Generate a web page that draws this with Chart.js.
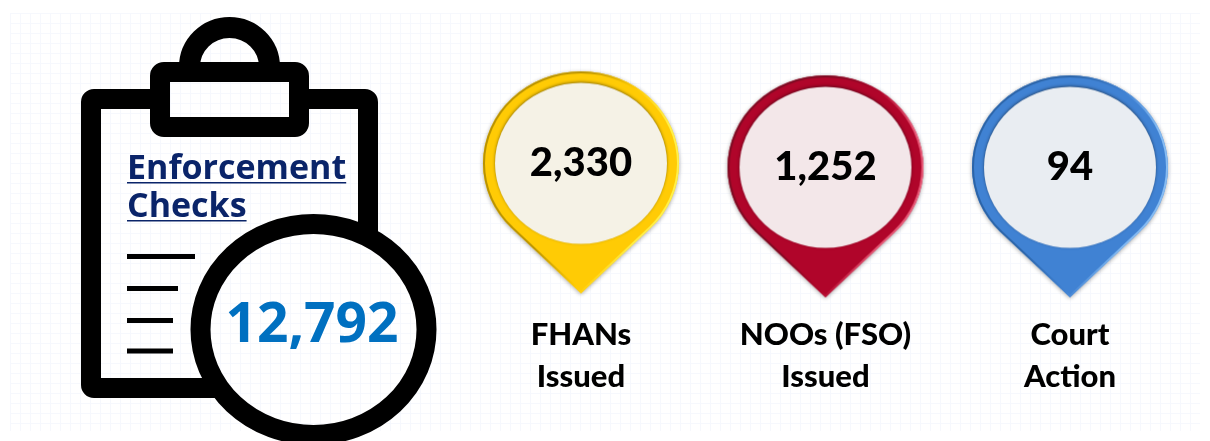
<!DOCTYPE html>
<html>
<head>
<meta charset="utf-8">
<title>Enforcement Checks</title>
<script src="https://cdn.jsdelivr.net/npm/chart.js@4"></script>
<style>
  html, body { margin: 0; padding: 0; background: #fff; overflow: hidden; }
  #wrap { position: relative; width: 1210px; height: 441px; }
  #paper {
    position: absolute; left: 10px; top: 13px; width: 1190px; height: 418px;
    background-image:
      linear-gradient(to right, #f6f8fd 1px, transparent 1px),
      linear-gradient(to bottom, #f6f8fd 1px, transparent 1px);
    background-size: 10px 10px;
  }
  canvas { position: absolute; left: 0; top: 0; }
</style>
</head>
<body>
<div id="wrap">
  <div id="paper"></div>
  <canvas id="checksChart" width="1210" height="441"></canvas>
</div>
<script>
// Datos
const categories = [['FHANs', 'Issued'], ['NOOs (FSO)', 'Issued'], ['Court', 'Action']];
const issued = [2330, 1252, 94];
const pinRow = [0, 0, 0]; // todos los pines van a la misma altura
const titleLines = ['Enforcement', 'Checks'];
const totalChecks = 12792;

const fmt = n => n.toLocaleString('en-US');

const headOffset = 18; // distancia del punto al centro de la cabeza del pin
const pinColors = [
  { base: '#ffcb05', dark: '#b99200', light: '#fff04a', face: '#f5f2e6', dy: -4 },
  { base: '#b0052a', dark: '#7d0a22', light: '#ea5d7a', face: '#f3e7e9', dy: 0 },
  { base: '#4082d3', dark: '#2b64a8', light: '#86bcf3', face: '#e9edf2', dy: 0 }
];

// Dibuja un pin en un canvas aparte para usarlo como pointStyle
function makePin(c) {
  const cv = document.createElement('canvas');
  cv.width = 240;
  cv.height = 320;
  const g = cv.getContext('2d');
  const cx = 120, cy = 160 + headOffset + c.dy;
  const rx = 98, ry = 92, tip = 130;
  const t = Math.asin(ry / tip);

  const shape = () => {
    g.beginPath();
    g.ellipse(cx, cy, rx, ry, 0, t, Math.PI - t, true);
    g.lineTo(cx, cy + tip);
    g.closePath();
  };

  g.save();
  g.shadowColor = 'rgba(0,0,0,0.35)';
  g.shadowBlur = 4;
  g.shadowOffsetY = 1;
  g.fillStyle = c.base;
  shape();
  g.fill();
  g.restore();

  // bisel
  g.save();
  shape();
  g.clip();
  const bevel = g.createLinearGradient(cx - 40, cy + 60, cx + 60, cy + 90);
  bevel.addColorStop(0, c.dark);
  bevel.addColorStop(0.5, c.base);
  bevel.addColorStop(0.9, c.light);
  g.strokeStyle = bevel;
  g.lineWidth = 4;
  shape();
  g.stroke();
  g.restore();

  g.save();
  g.shadowColor = 'rgba(0,0,0,0.45)';
  g.shadowBlur = 3;
  g.shadowOffsetY = -1;
  g.fillStyle = c.face;
  g.beginPath();
  g.ellipse(cx, cy, 86, 80.5, 0, 0, Math.PI * 2);
  g.fill();
  g.restore();
  return cv;
}

function roundRect(g, x, y, w, h, r) {
  g.beginPath();
  g.roundRect(x, y, w, h, r);
  g.stroke();
}

// Portapapeles con la lupa, a la izquierda del gráfico
const clipboardPlugin = {
  id: 'clipboard',
  afterDraw(chart) {
    const g = chart.ctx;
    g.save();
    g.strokeStyle = '#000';
    g.lineJoin = 'round';

    // el cuerpo no pasa por dentro de la lupa ni del gancho
    g.save();
    g.beginPath();
    g.rect(0, 0, 1210, 441);
    g.ellipse(313.5, 329.5, 105, 97, 0, 0, Math.PI * 2);
    g.rect(160, 72, 139, 55);
    g.clip('evenodd');
    g.lineWidth = 20;
    roundRect(g, 91, 99, 277, 289, 3);
    g.restore();

    // gancho
    g.lineWidth = 21;
    g.beginPath();
    g.ellipse(229.5, 67, 40, 39.5, 0, Math.PI, 0);
    g.stroke();
    g.lineWidth = 20;
    roundRect(g, 160, 72, 139, 55, 4);

    // renglones
    g.lineWidth = 5;
    [[195, 256.5], [178, 288.5], [173, 320.5], [173, 351]].forEach(([x2, y]) => {
      g.beginPath();
      g.moveTo(127, y);
      g.lineTo(x2, y);
      g.stroke();
    });

    // lupa
    g.lineWidth = 20;
    g.beginPath();
    g.ellipse(313.5, 329.5, 113, 105.5, 0, 0, Math.PI * 2);
    g.stroke();

    // título
    g.fillStyle = '#0a2469';
    g.font = 'bold 34px "Open Sans"';
    g.textAlign = 'left';
    g.textBaseline = 'alphabetic';
    titleLines.forEach((line, i) => {
      const y = 179 + i * 38;
      g.fillText(line, 127, y);
      g.fillRect(127, y + 3, g.measureText(line).width, 1.5);
    });

    g.fillStyle = '#0070c0';
    g.font = 'bold 55px "Open Sans"';
    g.textAlign = 'center';
    g.fillText(fmt(totalChecks), 312, 342);
    g.restore();
  }
};

// Valor escrito dentro de cada pin
const pinValuePlugin = {
  id: 'pinValues',
  afterDatasetsDraw(chart) {
    const g = chart.ctx;
    g.save();
    g.fillStyle = '#000';
    g.font = '900 40px Lato';
    g.textAlign = 'center';
    g.textBaseline = 'middle';
    chart.getDatasetMeta(0).data.forEach((pt, i) => {
      g.fillText(fmt(issued[i]), pt.x, pt.y + headOffset + pinColors[i].dy);
    });
    g.restore();
  }
};

const ctx = document.getElementById('checksChart').getContext('2d');
new Chart(ctx, {
  type: 'line',
  data: {
    labels: categories,
    datasets: [{
      data: pinRow,
      showLine: false,
      clip: false,
      pointStyle: pinColors.map(makePin)
    }]
  },
  options: {
    responsive: false,
    animation: false,
    layout: { padding: { left: 458.75, right: 17.75, top: 0, bottom: 31 } },
    scales: {
      x: {
        offset: true,
        border: { display: false },
        grid: { display: false },
        ticks: {
          color: '#000',
          padding: 12,
          maxRotation: 0,
          autoSkip: false,
          font: { family: 'Lato', size: 31, weight: '900', lineHeight: 1.36 }
        }
      },
      y: { display: false, min: -1, max: 1 }
    },
    plugins: {
      legend: { display: false },
      tooltip: { enabled: false }
    }
  },
  plugins: [clipboardPlugin, pinValuePlugin]
});
</script>
</body>
</html>
